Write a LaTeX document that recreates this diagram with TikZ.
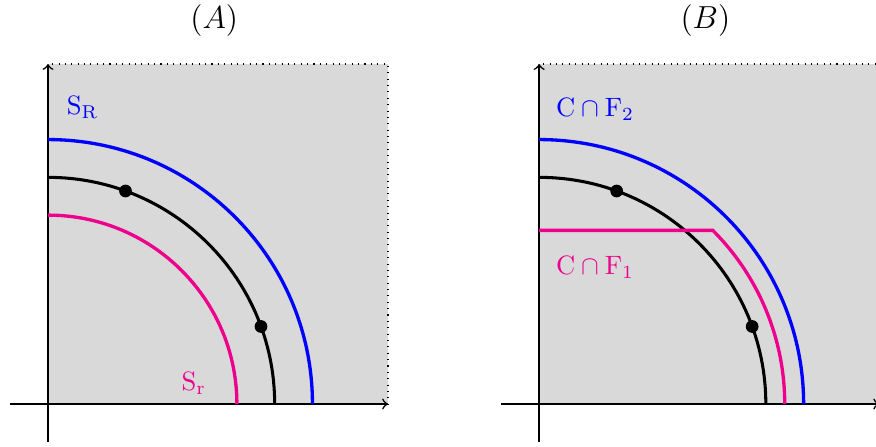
\documentclass[tikz,border=0pt]{standalone}
\definecolor{pinkm}{RGB}{236,0,140}
\begin{document}
\begin{tikzpicture}[
  field/.style={fill=black!15, draw=black, dotted, line width=0.4pt},
  axisline/.style={semithick, ->},
  circ/.style={line width=1.25pt},
  mid/.style={line width=1.15pt, black},
  pt/.style={fill=black},
  lab/.style={font=\large},
]
\useasboundingbox (-0.635,-0.556) rectangle (10.958,5.347);
% ---------- panel A ----------
\begin{scope}
  \coordinate (O1) at (0,0);
  \path[field] (0,0) rectangle (4.5,4.5);
  \coordinate (xa0) at (-0.5,0); \coordinate (xa1) at (4.5,0);
  \coordinate (ya0) at (0,-0.5); \coordinate (ya1) at (0,4.5);
  \draw[axisline] (xa0) -- (xa1);
  \draw[axisline] (ya0) -- (ya1);
  \draw[circ, blue] (0,3.5) arc[start angle=90, end angle=0, radius=3.5];
  \draw[mid] (0,3) arc[start angle=90, end angle=0, radius=3];
  \draw[circ, pinkm] (0,2.5) arc[start angle=90, end angle=0, radius=2.5];
  \fill[pt] (70:3) circle (2.4pt);
  \fill[pt] (20:3) circle (2.4pt);
  \node[lab] (labelA) at (2.2,5.07) {$(A)$};
  \node[blue] (SR) at (0.46,3.92) {$\mathrm{S}_\mathrm{R}$};
  \node[pinkm] (Sr) at (1.93,0.27) {$\mathrm{S}_\mathrm{r}$};
\end{scope}
% ---------- panel B ----------
\begin{scope}[xshift=6.5cm]
  \path[field] (0,0) rectangle (4.5,4.5);
  \coordinate (xb0) at (-0.5,0); \coordinate (xb1) at (4.5,0);
  \coordinate (yb0) at (0,-0.5); \coordinate (yb1) at (0,4.5);
  \draw[axisline] (xb0) -- (xb1);
  \draw[axisline] (yb0) -- (yb1);
  \draw[circ, blue] (0,3.5) arc[start angle=90, end angle=0, radius=3.5];
  \draw[mid] (0,3) arc[start angle=90, end angle=0, radius=3];
  \draw[circ, pinkm] (0,{3.25*sin(45)}) -- (45:3.25) arc[start angle=45, end angle=0, radius=3.25];
  \fill[pt] (70:3) circle (2.4pt);
  \fill[pt] (20:3) circle (2.4pt);
  \node[lab] (labelB) at (2.2,5.07) {$(B)$};
  \node[blue] (CF2) at (0.74,3.9) {$\mathrm{C}\cap \mathrm{F}_2$};
  \node[pinkm] (CF1) at (0.74,1.81) {$\mathrm{C}\cap \mathrm{F}_1$};
\end{scope}
\end{tikzpicture}
\end{document}
